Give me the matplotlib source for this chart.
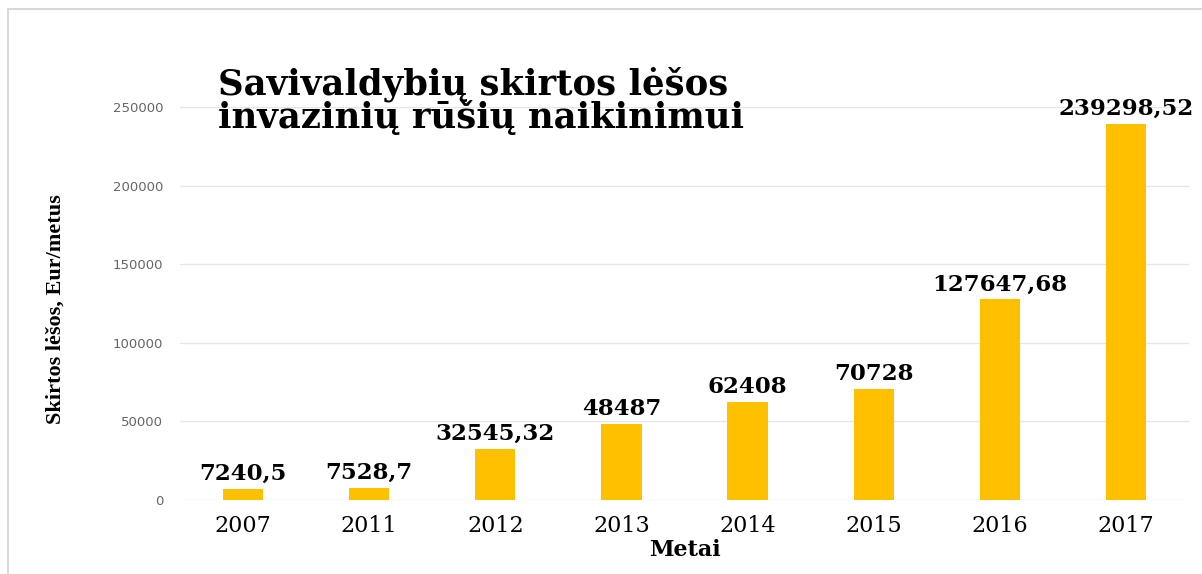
import matplotlib
matplotlib.use("Agg")
import matplotlib.pyplot as plt
from matplotlib.patches import Rectangle

years = ["2007", "2011", "2012", "2013", "2014", "2015", "2016", "2017"]
values = [7240.5, 7528.7, 32545.32, 48487, 62408, 70728, 127647.68, 239298.52]
value_labels = ["7240,5", "7528,7", "32545,32", "48487", "62408", "70728", "127647,68", "239298,52"]
yticks = [0, 50000, 100000, 150000, 200000, 250000]

W, H = 1202, 574
fig = plt.figure(figsize=(W / 100, H / 100), dpi=100)
fig.patch.set_facecolor("white")

# outer frame
fig.add_artist(Rectangle((8 / W, -0.05), 1.1, 1 - 9 / H + 0.05, transform=fig.transFigure,
                         fill=False, edgecolor="#d9d9d9", linewidth=1.5))

ax = fig.add_axes([180 / W, 1 - 500 / H, (1189 - 180) / W, (500 - 107) / H])
x = list(range(len(years)))
ax.bar(x, values, width=0.32, color="#FFC000", zorder=3)
ax.set_xlim(-0.5, len(years) - 0.5)
ax.set_ylim(0, 250000)
ax.set_yticks(yticks)
ax.set_yticklabels([str(t) for t in yticks], fontsize=9.5, color="#666666", family="DejaVu Sans")
ax.set_xticks(x)
ax.set_xticklabels(years, fontsize=16, family="DejaVu Serif")
ax.tick_params(axis="both", length=0)
ax.tick_params(axis="x", pad=11)
ax.tick_params(axis="y", pad=12)
ax.grid(axis="y", color="#e6e6e6", linewidth=1, zorder=0)
for s in ax.spines.values():
    s.set_visible(False)

for xi, v, lab in zip(x, values, value_labels):
    ax.annotate(lab, (xi, v), xytext=(0, 6.5), textcoords="offset points", ha="center", va="baseline",
                fontsize=16.5, fontweight="bold", family="DejaVu Serif", clip_on=False)

ax.set_xlabel("Metai", fontsize=16, fontweight="bold", family="DejaVu Serif", labelpad=1)
fig.text(56 / W, 1 - 309 / H, "Skirtos lėšos, Eur/metus", rotation=90, ha="center", va="center",
         fontsize=16, fontweight="bold", family="Liberation Serif")

fig.text(218 / W, 1 - 94 / H, "Savivaldybių skirtos lėšos", ha="left", va="baseline",
         fontsize=25.5, fontweight="bold", family="DejaVu Serif")
fig.text(218 / W, 1 - 128 / H, "invazinių rūšių naikinimui", ha="left", va="baseline",
         fontsize=25.5, fontweight="bold", family="DejaVu Serif")

fig.savefig("out.png", dpi=100)
